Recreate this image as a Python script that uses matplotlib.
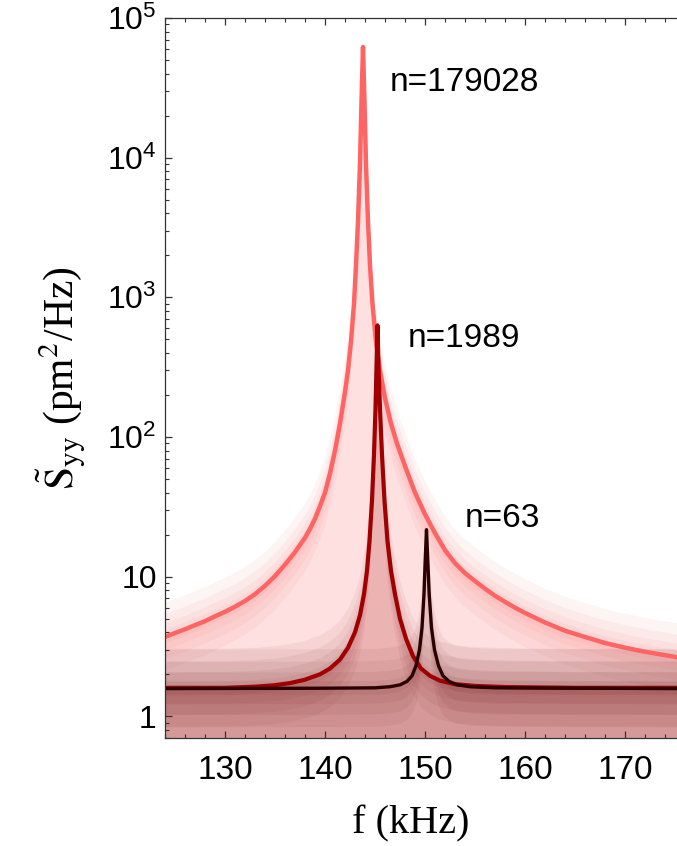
import numpy as np
import matplotlib
matplotlib.use("Agg")
import matplotlib.pyplot as plt
from matplotlib.ticker import FixedLocator, MultipleLocator, LogLocator, NullFormatter

# --- datos (f en kHz, S en pm^2/Hz) ---
f_179028 = [124, 125, 126, 127, 128, 129, 130, 131, 132, 133, 134, 135, 136, 137,
            138, 138.5, 139, 139.5, 140, 140.5, 141, 141.5, 142, 142.3, 142.6,
            142.9, 143.1, 143.3, 143.5, 143.65, 143.8, 143.95, 144.1, 144.3,
            144.5, 144.75, 145.1, 145.5, 146.0, 146.6, 147.2, 148, 149, 150, 151,
            152, 153, 154, 155, 156, 157, 158, 159, 160, 162, 164, 166, 168, 170,
            172, 175.2]
S_179028 = [3.7, 3.95, 4.2, 4.5, 4.8, 5.2, 5.6, 6.1, 6.7, 7.5, 8.6, 10.1, 12.2, 15,
            19, 22, 26, 32, 40, 55, 80, 125, 210, 300, 480,
            900, 1700, 3500, 9000, 25000, 62000, 25000, 9000, 3500,
            1700, 900, 480, 300, 190, 125, 90, 62, 40, 28, 20.5,
            15.5, 12.5, 10.6, 9.3, 8.2, 7.3, 6.6, 6.0, 5.5, 4.7, 4.1, 3.7, 3.35, 3.1,
            2.9, 2.65]

f_1989 = [124, 130, 133, 135, 136.5, 138, 139.5, 140.5, 141.5, 142.3, 143, 143.5,
          143.9, 144.2, 144.45, 144.7, 144.9, 145.05, 145.15, 145.25, 145.35,
          145.5, 145.7, 145.95, 146.25, 146.6, 147.0, 147.5, 148.1, 148.8, 149.6,
          150.5, 151.5, 153, 155, 158, 165, 175.2]
S_1989 = [1.6, 1.6, 1.63, 1.67, 1.73, 1.83, 2.0, 2.2, 2.55, 3.1, 4.0, 5.3,
          7.5, 11, 18, 35, 75, 160, 320, 630, 320,
          160, 75, 35, 18, 11, 7.5, 5.0, 3.6, 2.7, 2.2,
          1.95, 1.8, 1.7, 1.65, 1.62, 1.6, 1.6]

f_63 = [124, 140, 145, 146.5, 147.5, 148.2, 148.7, 149.1, 149.45, 149.7, 149.9,
        150.02, 150.15, 150.28, 150.42, 150.65, 150.95, 151.35, 151.8, 152.4,
        153.2, 154.5, 157, 175.2]
S_63 = [1.58, 1.59, 1.6, 1.63, 1.68, 1.78, 1.95, 2.3, 3.0, 4.3, 7.5,
        13, 21.7, 13, 7.5, 4.3, 3.0, 2.3, 1.95, 1.78,
        1.68, 1.63, 1.6, 1.58]

etiquetas = ["n=179028", "n=1989", "n=63"]
pos_etiquetas = [(146.5, 3.46e4), (148.3, 510), (154.0, 26.0)]

xticks = [130, 140, 150, 160, 170]
yticks = [1, 10, 100, 1e3, 1e4, 1e5]
yticklabels = ["1", "10", "$10^{2}$", "$10^{3}$", "$10^{4}$", "$10^{5}$"]

# --- estilo ---
plt.rcParams["font.family"] = ["Liberation Sans", "DejaVu Sans"]
plt.rcParams["mathtext.fontset"] = "custom"
plt.rcParams["mathtext.rm"] = "Liberation Sans"
plt.rcParams["mathtext.it"] = "Liberation Sans:italic"
plt.rcParams["mathtext.bf"] = "Liberation Sans:bold"

c_rosa = "#FF6464"
c_rojo = "#A00000"
c_negro = "#2B0000"


def nube(ax, f, S, color, factores, alpha, smax):
    # capas semitransparentes que imitan la nube de puntos medidos
    f = np.array(f)
    S = np.array(S, dtype=float)
    m = S < smax
    for k in factores:
        ax.fill_between(f, S / k, S * k, where=m, color=color, alpha=alpha, lw=0)


fig = plt.figure(figsize=(6.77, 8.46), dpi=100)
ax = fig.add_axes([0.2437, 0.1277, 0.7563, 0.851])
ax.set_yscale("log")

# rellenos hasta el eje
ax.fill_between(f_179028, 0.3, S_179028, color=c_rosa, alpha=0.20, lw=0)
ax.fill_between(f_1989, 0.3, S_1989, color=c_rojo, alpha=0.20, lw=0)
ax.fill_between(f_63, 0.3, S_63, color="#5A0A0A", alpha=0.15, lw=0)

# nubes de datos
nube(ax, f_179028, S_179028, "#F06868", [1.12, 1.25, 1.45, 1.75], 0.07, 800)
nube(ax, f_1989, S_1989, "#7A1818", [1.12, 1.3, 1.55, 1.9], 0.06, 40)
nube(ax, f_63, S_63, "#5E1010", [1.12, 1.3, 1.55, 1.9], 0.06, 15)

# ajustes lorentzianos
ax.plot(f_179028, S_179028, color=c_rosa, lw=3.2, solid_joinstyle="round")
ax.plot(f_1989, S_1989, color=c_rojo, lw=3.0, solid_joinstyle="round")
ax.plot(f_63, S_63, color=c_negro, lw=2.4, solid_joinstyle="round")

for txt, (x, y) in zip(etiquetas, pos_etiquetas):
    ax.text(x, y, txt, fontsize=24, ha="left", va="center", color="black")

ax.set_xlim(124.0, 175.2)
ax.set_ylim(0.70, 1e5)

ax.xaxis.set_major_locator(FixedLocator(xticks))
ax.xaxis.set_minor_locator(MultipleLocator(2))
ax.yaxis.set_major_locator(FixedLocator(yticks))
ax.set_yticklabels(yticklabels)
ax.yaxis.set_minor_locator(LogLocator(base=10, subs=np.arange(2, 10)))
ax.yaxis.set_minor_formatter(NullFormatter())

ax.tick_params(axis="both", which="both", direction="in", top=True, right=False, color="#333333")
ax.tick_params(axis="both", which="major", length=5, width=0.9)
ax.tick_params(axis="both", which="minor", length=3, width=0.8)
ax.tick_params(axis="x", which="major", pad=12, labelsize=24)
ax.tick_params(axis="y", which="major", pad=6, labelsize=23)

for s in ["left", "bottom", "top"]:
    ax.spines[s].set_color("#333333")
    ax.spines[s].set_linewidth(0.9)
ax.spines["right"].set_visible(False)

ax.set_xlabel("f (kHz)", fontsize=29, family=["Liberation Serif", "DejaVu Serif"])
ax.xaxis.set_label_coords(0.48, -0.094)
ax.set_ylabel(r"$\tilde{\mathrm{S}}_{\mathrm{yy}}$ (pm$^{2}$/Hz)", fontsize=30,
              family=["Liberation Serif", "DejaVu Serif"], math_fontfamily="stix")
ax.yaxis.set_label_coords(-0.15, 0.5)

fig.savefig("out.png", dpi=100)
